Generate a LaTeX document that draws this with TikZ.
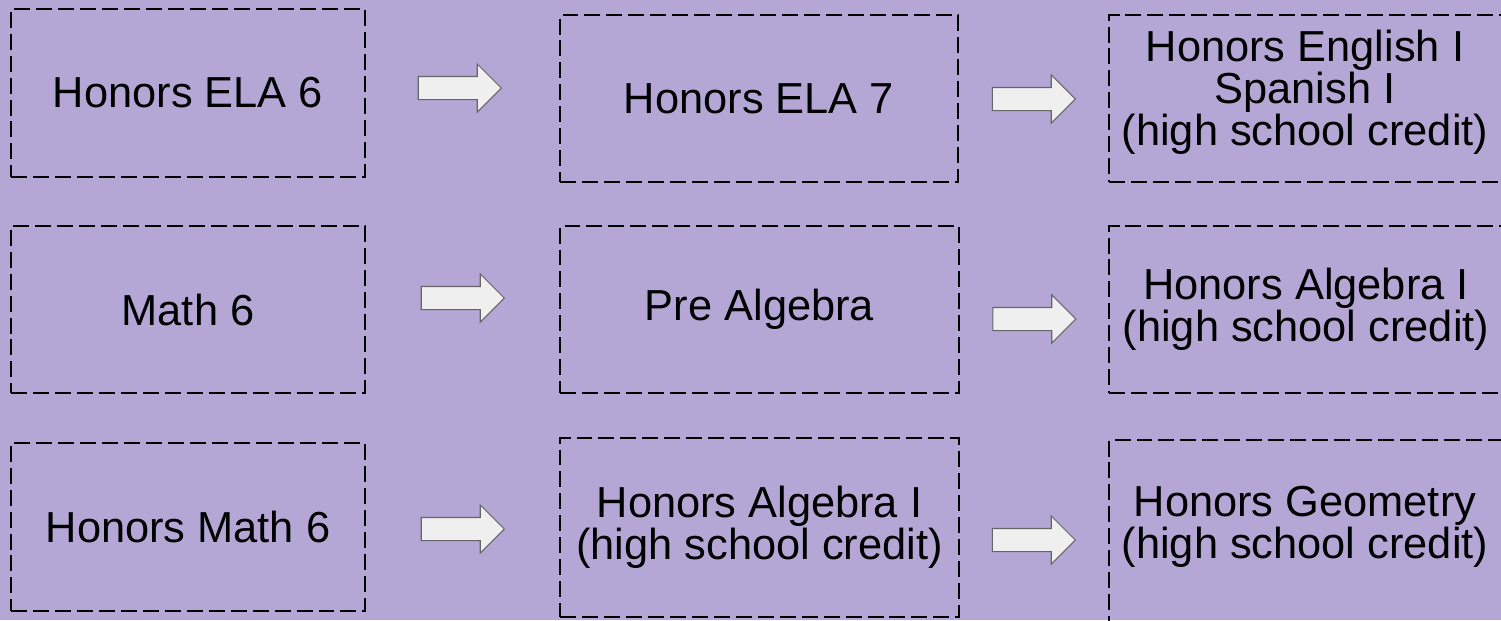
\documentclass[tikz,border=0pt]{standalone}
\usepackage{fontspec}
\setmainfont{Liberation Sans}
\usepackage{tikz}
\usetikzlibrary{shapes.arrows}

\definecolor{lavender}{HTML}{B4A7D6}
\definecolor{arrowfill}{HTML}{EFEFEF}
\definecolor{arrowline}{HTML}{666666}

\tikzset{
    course/.style={draw=black, line width=1pt, dash pattern=on 9.1pt off 3.4pt,
        inner sep=0pt, align=center, font=\fontsize{24.7}{22.8}\selectfont},
    coursetext/.style={inner sep=0pt, align=center, font=\fontsize{24.7}{22.8}\selectfont},
    blockarrow/.style={single arrow, draw=arrowline, fill=arrowfill, line width=0.6pt,
        inner xsep=0pt, inner ysep=0.22cm, minimum height=1.66cm,
        single arrow head extend=0.25cm, single arrow tip angle=90},
}

\begin{document}
\begin{tikzpicture}[x=0.02cm,y=-0.02cm]
    % background
    \fill [lavender] (0,0) rectangle (1501,620);
    \useasboundingbox (0,0) rectangle (1501,620);

    % grade 6
    \node [course,minimum width=7.08cm,minimum height=3.36cm] (ela6) at (188,93) {Honors ELA 6};
    \node [course,minimum width=7.08cm,minimum height=3.34cm] (math6) at (188,309.5) {Math 6};
    \node [course,minimum width=7.08cm,minimum height=3.36cm] (hmath6) at (188,527) {Honors Math 6};

    % grade 7
    \node [course,minimum width=7.96cm,minimum height=3.34cm] (ela7) at (759,98.5) {Honors ELA 7};
    \node [course,minimum width=7.98cm,minimum height=3.34cm] (prealg) at (759.5,309.5) {Pre Algebra};
    \node [course,minimum width=7.98cm,minimum height=3.58cm] (hsalg) at (759.5,527.5) {Honors Algebra I\\(high school credit)};

    % grade 8
    \node [course,minimum width=7.88cm,minimum height=3.34cm] (eng) at (1306,98.5) {};
    \node [coursetext] (engtext) at (1305,92) {Honors English I\\Spanish I\\(high school credit)};
    \node [course,minimum width=7.88cm,minimum height=3.34cm] (alg) at (1306,309.5) {Honors Algebra I\\(high school credit)};
    \node [course,minimum width=7.88cm,minimum height=4.0cm] (geo) at (1306,540) {};
    \node [coursetext] (geotext) at (1305,527) {Honors Geometry\\(high school credit)};

    % arrows
    \node [blockarrow] (a1) at (454,88) {};
    \node [blockarrow] (a2) at (1028,99) {};
    \node [blockarrow] (a3) at (457,298) {};
    \node [blockarrow] (a4) at (1028.5,319) {};
    \node [blockarrow] (a5) at (457,529) {};
    \node [blockarrow] (a6) at (1028,540) {};
\end{tikzpicture}
\end{document}
